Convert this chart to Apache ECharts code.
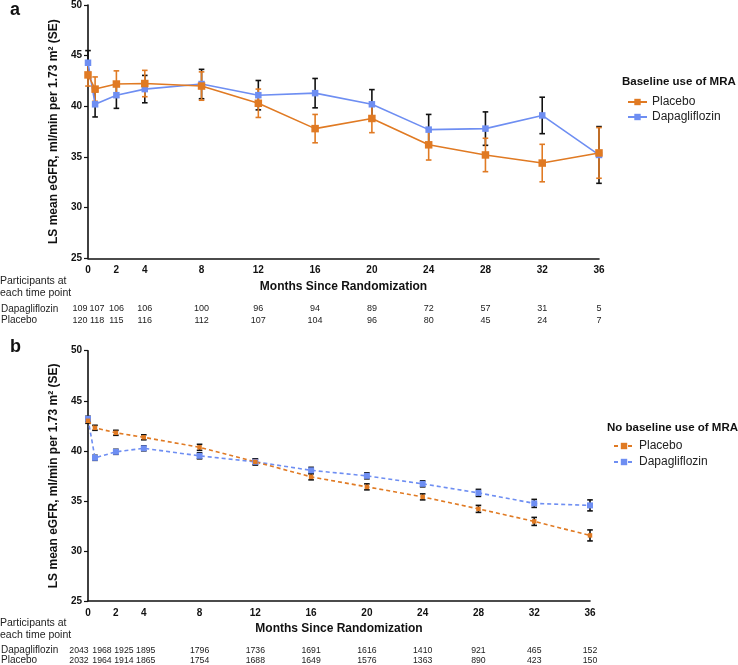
<!DOCTYPE html>
<html>
<head>
<meta charset="utf-8">
<script src="https://cdn.jsdelivr.net/npm/echarts@6/dist/echarts.min.js"></script>
<style>
html,body{margin:0;padding:0;background:#fff;}
#chart{width:738px;height:665px;}
</style>
</head>
<body>
<div id="chart"></div>
<script>
// ---- data ----
const months = [0, 0.5, 2, 4, 8, 12, 16, 20, 24, 28, 32, 36];
const tickLabels = [0, 2, 4, 8, 12, 16, 20, 24, 28, 32, 36];

// Panel a: baseline use of MRA
const aDapaMean = [44.3, 40.2, 41.1, 41.7, 42.2, 41.1, 41.3, 40.2, 37.7, 37.8, 39.1, 35.2];
const aDapaSE   = [1.2, 1.25, 1.3, 1.35, 1.45, 1.45, 1.45, 1.45, 1.5, 1.65, 1.8, 2.8];
const aPlacMean = [43.1, 41.7, 42.2, 42.25, 42.0, 40.3, 37.8, 38.8, 36.2, 35.2, 34.4, 35.4];
const aPlacSE   = [1.1, 1.2, 1.3, 1.3, 1.4, 1.4, 1.4, 1.4, 1.5, 1.65, 1.85, 2.5];
const aDapaN = [109, 107, 106, 106, 100, 96, 94, 89, 72, 57, 31, 5];
const aPlacN = [120, 118, 115, 116, 112, 107, 104, 96, 80, 45, 24, 7];

// Panel b: no baseline use of MRA
const bDapaMean = [43.2, 39.3, 39.9, 40.25, 39.5, 38.9, 38.05, 37.5, 36.7, 35.8, 34.75, 34.55];
const bDapaSE   = [0.25, 0.25, 0.25, 0.25, 0.3, 0.3, 0.3, 0.3, 0.3, 0.35, 0.4, 0.55];
const bPlacMean = [43.0, 42.3, 41.8, 41.35, 40.35, 38.9, 37.4, 36.4, 35.4, 34.2, 32.95, 31.55];
const bPlacSE   = [0.25, 0.25, 0.25, 0.25, 0.3, 0.3, 0.3, 0.3, 0.3, 0.35, 0.4, 0.55];
const bDapaN = [2043, 1968, 1925, 1895, 1796, 1736, 1691, 1616, 1410, 921, 465, 152];
const bPlacN = [2032, 1964, 1914, 1865, 1754, 1688, 1649, 1576, 1363, 890, 423, 150];

// ---- layout / style (not data) ----
const ORANGE = '#E07A23';
const BLUE = '#6E8EF2';
const FONT = 'Liberation Sans, Arial, sans-serif';
const aOffsets = [-8, 2, 0, 0, 0, 0, 0, 0, 0, 0, 0, 0];
const bOffsets = [-9, 7, 8, 2, 0, 0, 0, 0, 0, 0, 0, 0];

const pts = (xs, ys) => xs.map((x, i) => [x, ys[i]]);
const errs = (xs, ys, se) => xs.map((x, i) => [x, ys[i] - se[i], ys[i] + se[i]]);

function errSeries(data, idx, color) {
  return {
    type: 'custom', xAxisIndex: idx, yAxisIndex: idx, data: data,
    silent: true,
    renderItem: function (params, api) {
      const x = api.value(0);
      const hi = api.coord([x, api.value(2)]);
      const lo = api.coord([x, api.value(1)]);
      const w = 2.8;
      const st = { stroke: color, lineWidth: 1.6 };
      return {
        type: 'group', children: [
          { type: 'line', shape: { x1: hi[0], y1: hi[1], x2: lo[0], y2: lo[1] }, style: st },
          { type: 'line', shape: { x1: hi[0] - w, y1: hi[1], x2: hi[0] + w, y2: hi[1] }, style: st },
          { type: 'line', shape: { x1: lo[0] - w, y1: lo[1], x2: lo[0] + w, y2: lo[1] }, style: st }
        ]
      };
    }
  };
}

function xAxis(idx, gridIdx) {
  return {
    type: 'value', gridIndex: gridIdx, min: 0, max: 36, interval: 0.5,
    name: 'Months Since Randomization', nameLocation: 'middle', nameGap: 22,
    nameTextStyle: { fontFamily: FONT, fontWeight: 'bold', fontSize: 12, color: '#111' },
    axisLine: { lineStyle: { color: '#111', width: 1.6 } },
    axisTick: { show: false },
    splitLine: { show: false },
    axisLabel: {
      margin: 7, fontFamily: FONT, fontWeight: 'bold', fontSize: 10, color: '#111',
      showMinLabel: true, showMaxLabel: true, interval: 0,
      formatter: v => tickLabels.indexOf(v) >= 0 ? String(v) : ''
    }
  };
}
function yAxis(gridIdx) {
  return {
    type: 'value', gridIndex: gridIdx, min: 25, max: 50, interval: 5,
    name: 'LS mean eGFR, ml/min per 1.73 m² (SE)', nameLocation: 'middle', nameGap: 25,
    nameTextStyle: { fontFamily: FONT, fontWeight: 'bold', fontSize: 12, color: '#111' },
    axisLine: { show: true, lineStyle: { color: '#111', width: 1.6 } },
    axisTick: { show: true, length: 4, lineStyle: { color: '#111', width: 1.2 } },
    splitLine: { show: false },
    axisLabel: { margin: 6, fontFamily: FONT, fontWeight: 'bold', fontSize: 10, color: '#111' }
  };
}

const chart = echarts.init(document.getElementById('chart'), null, { renderer: 'canvas' });

const option = {
  animation: false,
  backgroundColor: '#fff',
  grid: [
    { left: 88, top: 3.3, right: 139, bottom: 406.7 },
    { left: 88, top: 350.7, right: 148, bottom: 64 }
  ],
  xAxis: [xAxis(0, 0), xAxis(1, 1)],
  yAxis: [yAxis(0), yAxis(1)],
  legend: [
    {
      data: ['Placebo', 'Dapagliflozin'], orient: 'vertical', left: 622, top: 90.5,
      itemWidth: 19, itemHeight: 8, itemGap: 2,
      textStyle: { fontFamily: FONT, fontSize: 12, color: '#222', lineHeight: 13 },
      selectedMode: false
    },
    {
      data: ['Placebo_b', 'Dapagliflozin_b'], orient: 'vertical', left: 608, top: 434.5,
      itemWidth: 20, itemHeight: 8, itemGap: 3,
      formatter: n => n.replace('_b', ''),
      textStyle: { fontFamily: FONT, fontSize: 12, color: '#222', lineHeight: 13 },
      selectedMode: false
    }
  ],
  series: [
    // panel a
    errSeries(errs(months, aDapaMean, aDapaSE), 0, '#111'),
    {
      name: 'Dapagliflozin', type: 'line', xAxisIndex: 0, yAxisIndex: 0,
      data: pts(months, aDapaMean), symbol: 'rect', symbolSize: 6.5,
      itemStyle: { color: BLUE }, lineStyle: { color: BLUE, width: 1.6 }
    },
    errSeries(errs(months, aPlacMean, aPlacSE), 0, ORANGE),
    {
      name: 'Placebo', type: 'line', xAxisIndex: 0, yAxisIndex: 0,
      data: pts(months, aPlacMean), symbol: 'rect', symbolSize: 7.5,
      itemStyle: { color: ORANGE }, lineStyle: { color: ORANGE, width: 1.6 }
    },
    // panel b
    {
      name: 'Dapagliflozin_b', type: 'line', xAxisIndex: 1, yAxisIndex: 1,
      data: pts(months, bDapaMean), symbol: 'rect', symbolSize: 6,
      itemStyle: { color: BLUE }, lineStyle: { color: BLUE, width: 1.6, type: [4, 3] }
    },
    {
      name: 'Placebo_b', type: 'line', xAxisIndex: 1, yAxisIndex: 1,
      data: pts(months, bPlacMean), symbol: 'rect', symbolSize: 4.5,
      itemStyle: { color: ORANGE }, lineStyle: { color: ORANGE, width: 1.6, type: [4, 3] }
    },
    errSeries(errs(months, bDapaMean, bDapaSE), 1, '#111'),
    errSeries(errs(months, bPlacMean, bPlacSE), 1, '#111')
  ]
};
chart.setOption(option);

// ---- texts: panel letters, legend titles, participant tables ----
const g = [];
function txt(x, y, s, opts) {
  g.push(Object.assign({
    type: 'text', x: x, y: y, silent: true,
    style: Object.assign({
      text: s, fontFamily: FONT, fontSize: 10.5, fill: '#222',
      textVerticalAlign: 'middle', textAlign: 'left'
    }, opts || {})
  }));
}
txt(10, 10, 'a', { fontSize: 18, fontWeight: 'bold', fill: '#111' });
txt(10, 347, 'b', { fontSize: 18, fontWeight: 'bold', fill: '#111' });
txt(622, 82, 'Baseline use of MRA', { fontSize: 11.5, fontWeight: 'bold', fill: '#111' });
txt(607, 428, 'No baseline use of MRA', { fontSize: 11.5, fontWeight: 'bold', fill: '#111' });

function table(axisIdx, rowY, titleY, dN, pN, offs, fs) {
  txt(0, titleY[0], 'Participants at');
  txt(0, titleY[1], 'each time point');
  txt(1, rowY[0], 'Dapagliflozin', { fontSize: 10 });
  txt(1, rowY[1], 'Placebo', { fontSize: 10 });
  months.forEach((m, i) => {
    const px = chart.convertToPixel({ xAxisIndex: axisIdx }, m) + offs[i];
    txt(px, rowY[0], String(dN[i]), { fontSize: fs, textAlign: 'center' });
    txt(px, rowY[1], String(pN[i]), { fontSize: fs, textAlign: 'center' });
  });
}
table(0, [309, 320.7], [281, 293.3], aDapaN, aPlacN, aOffsets, 9);
table(1, [650.7, 660.5], [623, 634.7], bDapaN, bPlacN, bOffsets, 8.7);

chart.setOption({ graphic: g });
</script>
</body>
</html>
